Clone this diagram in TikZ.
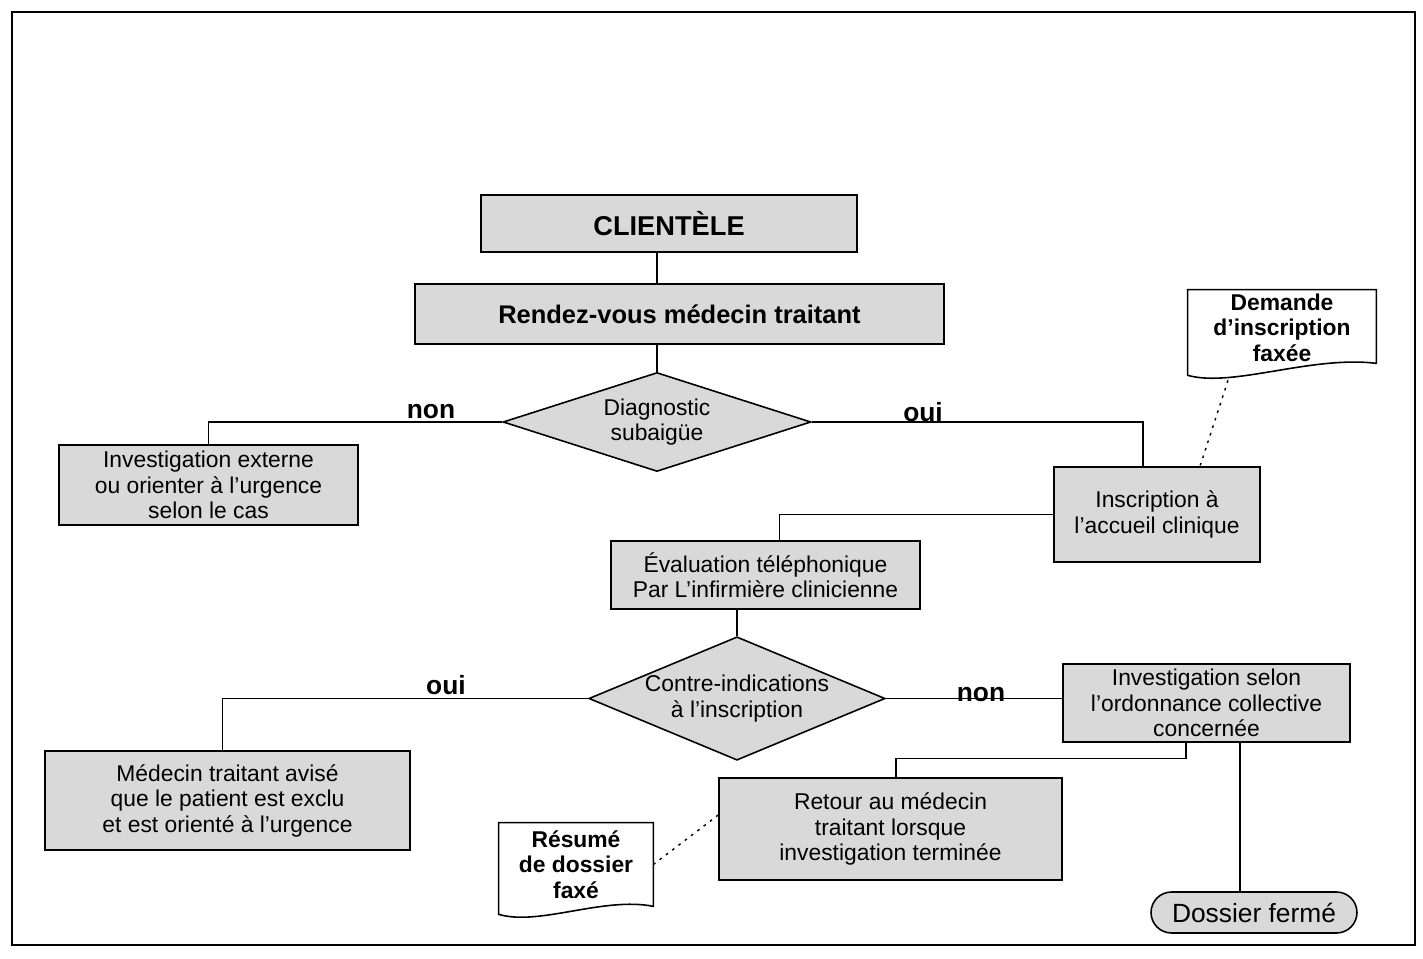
\documentclass[tikz,border=0pt]{standalone}
\usepackage{fontspec}
\setmainfont{Liberation Sans}
\usetikzlibrary{shapes.geometric,calc}

\begin{document}
\begin{tikzpicture}[
        x=0.02cm, y=-0.02cm,
        box/.style={rectangle, draw, line width=0.9pt, fill=black!15, align=center, inner sep=2pt, font=\fontsize{13}{14.5}\selectfont},
        decision/.style={diamond, draw, line width=0.9pt, fill=black!15, align=center, inner sep=0pt, font=\fontsize{13}{14.5}\selectfont},
        doc/.style={rectangle, align=center, inner sep=2pt, font=\bfseries\fontsize{13}{14.5}\selectfont},
        docline/.style={line width=0.9pt},
        term/.style={rectangle, rounded corners=0.41cm, draw, line width=0.9pt, fill=black!15, inner sep=2pt, font=\fontsize{15}{17}\selectfont},
        edge/.style={line width=0.8pt},
        link/.style={line width=0.8pt, dash pattern=on 1.5pt off 3pt},
        answer/.style={font=\bfseries\fontsize{15}{17}\selectfont, inner sep=1pt}
    ]

        \useasboundingbox (0,0) rectangle (1423,959);
        \draw[line width=1pt] (12,12) rectangle (1415,945);

        \node[box, minimum width=7.52cm, minimum height=1.14cm, font=\bfseries\fontsize{15.5}{17}\selectfont] (cli) at (669, 223.5) {CLIENTÈLE};
        \node[box, minimum width=10.58cm, minimum height=1.2cm, font=\bfseries\fontsize{14.5}{17}\selectfont] (rdv) at (679.5, 314) {Rendez-vous médecin traitant};
        \node[decision, aspect=3.1, minimum width=6.16cm, minimum height=1.98cm] (diag) at (657, 422) {Diagnostic\\subaigüe};
        \node[box, minimum width=5.98cm, minimum height=1.6cm] (ext) at (208.5, 485) {Investigation externe\\ou orienter à l’urgence\\selon le cas};
        \node[box, minimum width=4.12cm, minimum height=1.9cm] (inscr) at (1157, 514.5) {Inscription à\\l’accueil clinique};
        \node[doc, minimum width=3.76cm, minimum height=1.5cm] (dem) at (1282, 327.5) {Demande\\d’inscription\\faxée};
        \node[box, minimum width=6.18cm, minimum height=1.36cm] (eval) at (765.5, 575) {Évaluation téléphonique\\Par L’infirmière clinicienne};
        \node[decision, aspect=2.4, minimum width=5.92cm, minimum height=2.34cm] (contre) at (737, 698.5) {Contre-indications\\à l’inscription};
        \node[box, minimum width=7.3cm, minimum height=1.98cm] (med) at (227.5, 800.5) {Médecin traitant avisé\\que le patient est exclu\\et est orienté à l’urgence};
        \node[box, minimum width=5.74cm, minimum height=1.56cm] (invsel) at (1206.5, 703) {Investigation selon\\l’ordonnance collective\\concernée};
        \node[box, minimum width=6.86cm, minimum height=2.04cm] (ret) at (890.5, 829) {Retour au médecin\\traitant lorsque\\investigation terminée};
        \node[doc, minimum width=3.08cm, minimum height=1.66cm] (res) at (576, 864.5) {Résumé\\de dossier\\faxé};
        \node[term, minimum width=4.12cm, minimum height=0.82cm] (ferme) at (1254, 912.5) {Dossier fermé};

        \draw[docline] ([yshift=-0.2cm]dem.south west) .. controls ([xshift=0.9cm,yshift=-0.45cm]dem.south west) and ([xshift=-1.3cm,yshift=0.2cm]dem.south east) .. ([yshift=0.04cm]dem.south east) -- (dem.north east) -- (dem.north west) -- cycle;
        \draw[docline] ([yshift=-0.16cm]res.south west) .. controls ([xshift=0.8cm,yshift=-0.4cm]res.south west) and ([xshift=-1.0cm,yshift=0.2cm]res.south east) .. (res.south east) -- (res.north east) -- (res.north west) -- cycle;

        \draw[edge] ([xshift=-0.24cm]cli.south) -- ([xshift=-0.24cm]cli.south |- rdv.north);
        \draw[edge] (rdv.south -| diag.north) -- (diag.north);
        \draw[edge] (diag.west) -| (ext.north);
        \draw[edge] (diag.east) -| ([xshift=-0.28cm]inscr.north);
        \draw[edge] (inscr.west) -| ([xshift=0.28cm]eval.north);
        \draw[edge] (eval.south -| contre.north) -- (contre.north);
        \draw[edge] (contre.west) -| ([xshift=-0.1cm]med.north);
        \draw[edge] (contre.east) -- (contre.east -| invsel.west);
        \draw[edge] ([xshift=-0.41cm]invsel.south) -- ++(0,-0.32cm) -| ([xshift=0.11cm]ret.north);
        \draw[edge] ([xshift=0.67cm]invsel.south) -- ([xshift=0.67cm]invsel.south |- ferme.north);

        \draw[link] ([xshift=-1.08cm,yshift=-0.3cm]dem.south) -- ([xshift=0.86cm]inscr.north);
        \draw[link] (res.east) -- ([yshift=0.28cm]ret.west);

        \node[answer, anchor=south] (non1) at (431, 421) {non};
        \node[answer, anchor=south] (oui1) at (923, 424) {oui};
        \node[answer, anchor=south] (oui2) at (446, 697) {oui};
        \node[answer, anchor=south] (non2) at (981, 704) {non};
    \end{tikzpicture}
\end{document}
